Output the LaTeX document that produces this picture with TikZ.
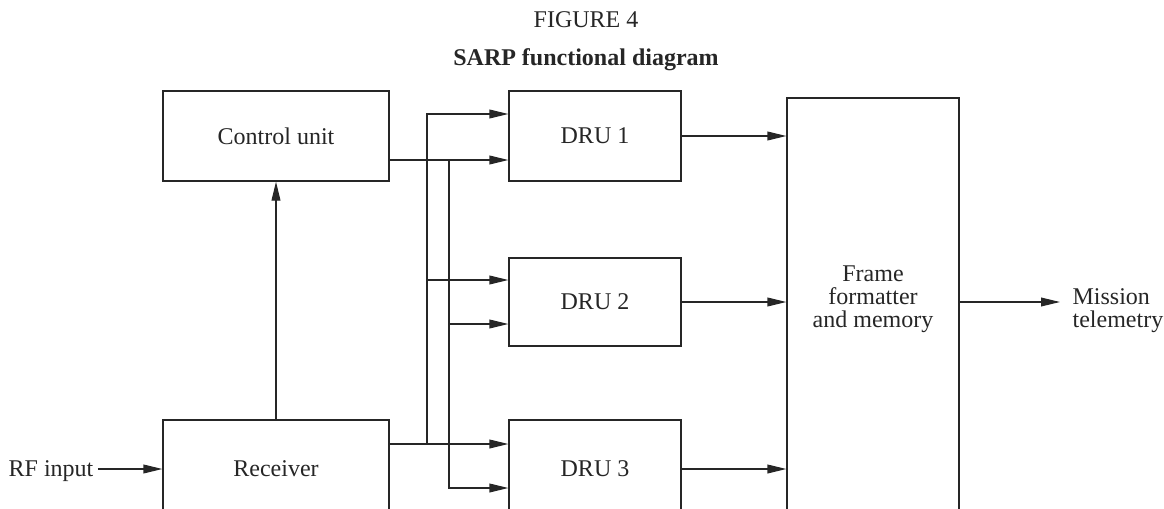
\documentclass[tikz,border=0pt]{standalone}
\usepackage{fontspec}
\setmainfont{Liberation Serif}
\usetikzlibrary{arrows.meta, calc}
\tikzset{
  font=\fontsize{12}{11.5}\selectfont,
  % Set arrowhead
  >={Triangle[length=9.5pt, width=4.4pt]},
  % General block
  block/.style={draw, fill=white, shape=rectangle, inner sep=0pt},
  % Wide block
  wblock/.style={block, minimum width=113pt},
  % DRU block
  dblock/.style={block, minimum width=86pt},
}

\begin{document}
\begin{tikzpicture}[x=0.5pt, y=-0.5pt, line width=0.6pt, black!85]
  \useasboundingbox (0,0) rectangle (1164,509);
  \clip (0,0) rectangle (1164,509);

  \node[anchor=base] (fig) at (586,27) {FIGURE 4};
  \node[anchor=base, font=\fontsize{12}{11.5}\selectfont\bfseries] (title)
    at (586,65) {SARP functional diagram};

  \node[wblock, minimum height=45pt] (ctrl) at (276,136) {Control unit};
  \node[wblock, minimum height=49pt] (recv) at (276,469) {Receiver};
  \node[dblock, minimum height=45pt] (dru1) at (595,136) {DRU 1};
  \node[dblock, minimum height=44pt] (dru2) at (595,302) {DRU 2};
  \node[dblock, minimum height=49pt] (dru3) at (595,469) {DRU 3};
  \node[block, minimum width=86pt, minimum height=216pt] (frame) at (873,314) {};
  \node[align=center] (frametxt) at (873,299) {Frame\\formatter\\and memory};

  \node[inner xsep=2pt] (rf) at (51,471) {RF input};
  \node[anchor=west, align=left, inner xsep=6pt, inner ysep=0pt] (mission)
    at (1060,311) {Mission\\telemetry};

  % DRU inputs
  \foreach \n/\a/\b in {1/11/-12, 2/11/-11, 3/12.5/-9.5} {
    \coordinate (in\n a) at ([yshift=\a pt]dru\n.west);
    \coordinate (in\n b) at ([yshift=\b pt]dru\n.west);
  }
  \coordinate (rj) at (427,444);
  \coordinate (cj) at (449,160);

  \draw[->] (rf.east |- recv.west) -- (recv.west);
  \draw[->] (recv) -- (ctrl);

  % receiver bus
  \draw[->] ([yshift=12.5pt]recv.east) -- (in3a);
  \draw[->] (rj) |- (in1a);
  \draw[->] (rj |- in2a) -- (in2a);

  % control bus
  \draw[->] ([yshift=-12pt]ctrl.east) -- (in1b);
  \draw[->] (cj) |- (in3b);
  \draw[->] (cj |- in2b) -- (in2b);

  \foreach \n in {1,2,3}
    \draw[->] (dru\n) -- (frame.west |- dru\n);
  \draw[->] (frame.east |- dru2.east) -- (mission.west |- dru2.east);
\end{tikzpicture}
\end{document}
